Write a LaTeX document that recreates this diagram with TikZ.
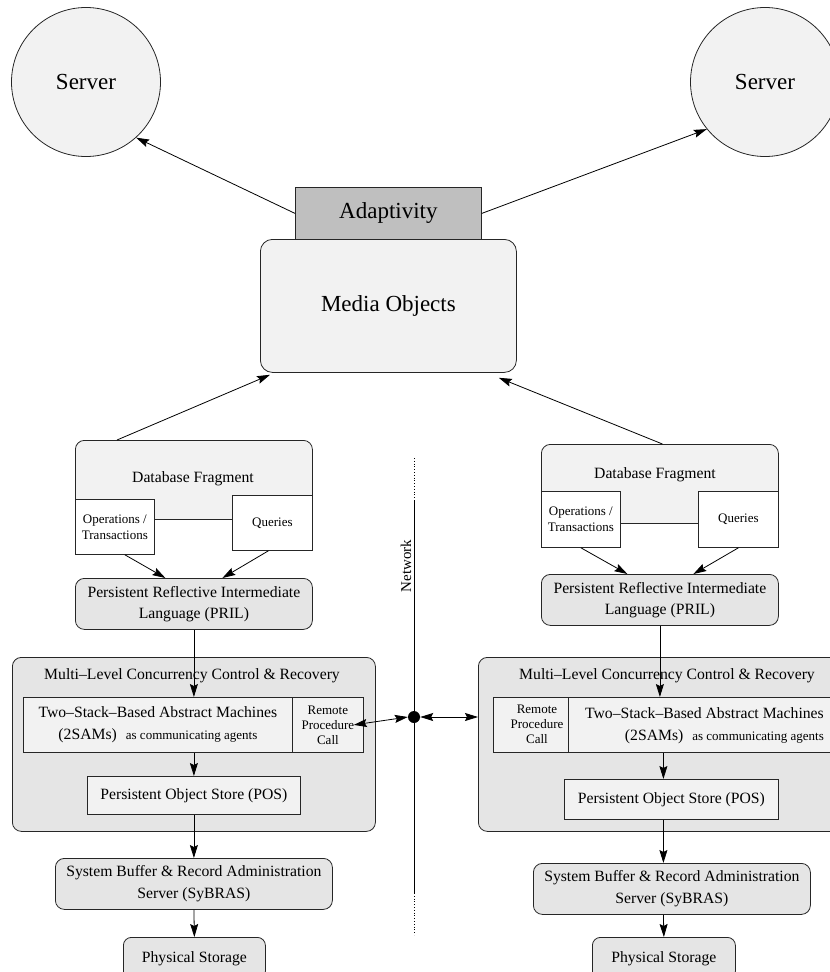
\documentclass[tikz,border=0pt]{standalone}
\usepackage{fontspec}
\setmainfont{Liberation Serif}
\usetikzlibrary{arrows.meta,calc}
\definecolor{g95}{gray}{0.95}
\definecolor{g90}{gray}{0.90}
\definecolor{g75}{gray}{0.75}
\newcommand\fz[2]{\fontsize{#1}{#2}\selectfont}
\begin{document}
\begin{tikzpicture}[x=1pt,y=-1pt,
  bx/.style={draw=black!85, line width=0.8pt, inner sep=0pt, align=center, anchor=north west},
  rb/.style={bx, rounded corners=9pt},
  lt/.style={fill=g95}, md/.style={fill=g90}, dk/.style={fill=g75}, wh/.style={fill=white},
  big/.style={font=\fz{23}{27}},
  mid/.style={font=\fz{15.7}{21}},
  sml/.style={font=\fz{13}{16}},
  arr/.style={line width=0.8pt, -{Stealth[length=13pt,width=8pt,inset=2pt]}},
  darr/.style={line width=0.8pt, {Stealth[length=13pt,width=8pt,inset=2pt]}-{Stealth[length=13pt,width=8pt,inset=2pt]}},
  txt/.style={inner sep=0pt, align=center},
  srv/.style={circle, draw=black!85, line width=0.8pt, fill=g95, minimum size=149, inner sep=0pt, big}
]
\useasboundingbox (0,0) rectangle (830,972);

% servers
\node[srv] (srvL) at (86,82) {\raisebox{-4pt}{Server}};
\node[srv] (srvR) at (765,82) {\raisebox{-4pt}{Server}};

% adaptivity and media objects
\node[bx, dk, big, minimum width=186, minimum height=52] (adapt) at (295,187) {Adaptivity};
\node[rb, rounded corners=12pt, lt, big, minimum width=256, minimum height=133] (media) at (260,239) {\raisebox{-3pt}{Media Objects}};

% ---------- left stack ----------
\node[rb, lt, minimum width=237, minimum height=79] (dbL) at (75,440) {};
\node[txt, mid] (dbLt) at (193,479) {Database Fragment};
\node[bx, wh, sml, minimum width=79, minimum height=55] (opsL) at (75,499) {Operations /\\Transactions};
\node[bx, wh, sml, minimum width=80, minimum height=55] (qL) at (232,495) {Queries};
\node[rb, md, mid, minimum width=237, minimum height=51] (prilL) at (75,578) {Persistent Reflective Intermediate\\Language (PRIL)};
\node[rb, md, minimum width=363, minimum height=174] (mlL) at (12,657) {};
\node[txt, mid] (mlLt) at (192,676) {Multi--Level Concurrency Control \& Recovery};
\node[bx, lt, font=\fz{15.7}{22}, minimum width=269, minimum height=55] (samL) at (23,697) {Two--Stack--Based Abstract Machines\\(2SAMs)\hspace{9pt}{\fz{13}{22}as communicating agents}};
\node[bx, lt, font=\fz{13}{15}, minimum width=71, minimum height=55] (rpcL) at (292,697) {Remote\\Procedure\\Call};
\node[bx, lt, mid, minimum width=213, minimum height=38] (posL) at (87,776) {Persistent Object Store (POS)};
\node[rb, md, font=\fz{15.7}{22}, minimum width=277, minimum height=51] (sybL) at (55,858) {System Buffer \& Record Administration\\Server (SyBRAS)};
\node[rb, rounded corners=8pt, md, mid, minimum width=142, minimum height=42] (physL) at (123,937) {Physical Storage};

% ---------- right stack ----------
\node[rb, lt, minimum width=237, minimum height=79] (dbR) at (541,444) {};
\node[txt, mid] (dbRt) at (655,475) {Database Fragment};
\node[bx, wh, sml, minimum width=79, minimum height=56] (opsR) at (541,491) {Operations /\\Transactions};
\node[bx, wh, sml, minimum width=80, minimum height=56] (qR) at (698,491) {Queries};
\node[rb, md, mid, minimum width=237, minimum height=51] (prilR) at (541,574) {Persistent Reflective Intermediate\\Language (PRIL)};
\node[rb, md, minimum width=380, minimum height=174] (mlR) at (478,657) {};
\node[txt, mid] (mlRt) at (667,676) {Multi--Level Concurrency Control \& Recovery};
\node[bx, lt, minimum width=75, minimum height=55] (rpcR) at (493,697) {};
\node[txt, font=\fz{13}{15}] (rpcRt) at (537,724) {Remote\\Procedure\\Call};
\node[bx, lt, minimum width=290, minimum height=55] (samR) at (568,697) {};
\node[txt, align=right, anchor=east, font=\fz{15.7}{22}] (samRt) at (824,726) {Two--Stack--Based Abstract Machines\\(2SAMs)\hspace{9pt}{\fz{13}{22}as communicating agents}};
\node[bx, lt, mid, minimum width=214, minimum height=40] (posR) at (564,779) {Persistent Object Store (POS)};
\node[rb, md, font=\fz{15.7}{22}, minimum width=277, minimum height=51] (sybR) at (533,863) {System Buffer \& Record Administration\\Server (SyBRAS)};
\node[rb, rounded corners=8pt, md, mid, minimum width=143, minimum height=42] (physR) at (592,937) {Physical Storage};

% ---------- network ----------
\coordinate (nT) at (414,458);
\coordinate (nA) at (414,500);
\coordinate (nB) at (414,893);
\coordinate (nE) at (414,935);
\draw[dotted, line width=0.8pt] (nT) -- (nA);
\draw[line width=0.8pt] (nA) -- (nB);
\draw[dotted, line width=0.8pt] (nB) -- (nE);
\node[circle, fill=black, minimum size=12, inner sep=0pt] (dot) at (414,717) {};
\node[txt, font=\fz{15}{18}, rotate=90] (netlbl) at (406,566) {Network};

% ---------- connectors ----------
\draw[arr] (adapt.west) -- (srvL.-48);
\draw[arr] (adapt.east) -- (srvR.219);
\draw[arr] ([xshift=42pt]dbL.north west) -- ([xshift=10pt,yshift=-2pt]media.south west);
\draw[arr] ([xshift=2.5pt]dbR.north) -- ([xshift=-18pt,yshift=-5pt]media.south east);
\draw[arr] ([xshift=10pt]opsL.south) -- ([xshift=-28.5pt]prilL.north);
\draw[arr] ([xshift=-4pt]qL.south) -- ([xshift=28.5pt]prilL.north);
\draw[arr] (opsR.south) -- ([xshift=-32.5pt]prilR.north);
\draw[arr] (qR.south) -- ([xshift=33.5pt]prilR.north);
\draw[arr] (prilL.south) -- (prilL.south |- samL.north);
\draw[arr] (posL.north |- samL.south) -- (posL.north);
\draw[arr] (posL.south) -- (sybL.north);
\draw[arr] (sybL.south) -- (physL.north);
\coordinate (aR) at ([xshift=-8pt]posR.north);
\coordinate (bR) at ([xshift=-8pt]posR.south);
\draw[arr] (prilR.south) -- (prilR.south |- samR.north);
\draw[arr] (aR |- samR.south) -- (aR);
\draw[arr] (bR) -- ([xshift=-8.5pt]sybR.north);
\draw[arr] ([xshift=-8.5pt]sybR.south) -- (physR.north);
\draw[darr] ([xshift=-10pt]rpcL.east) -- (dot.west);
\draw[darr] (dot.east) -- (dot.east -| mlR.west);
\end{tikzpicture}
\end{document}
